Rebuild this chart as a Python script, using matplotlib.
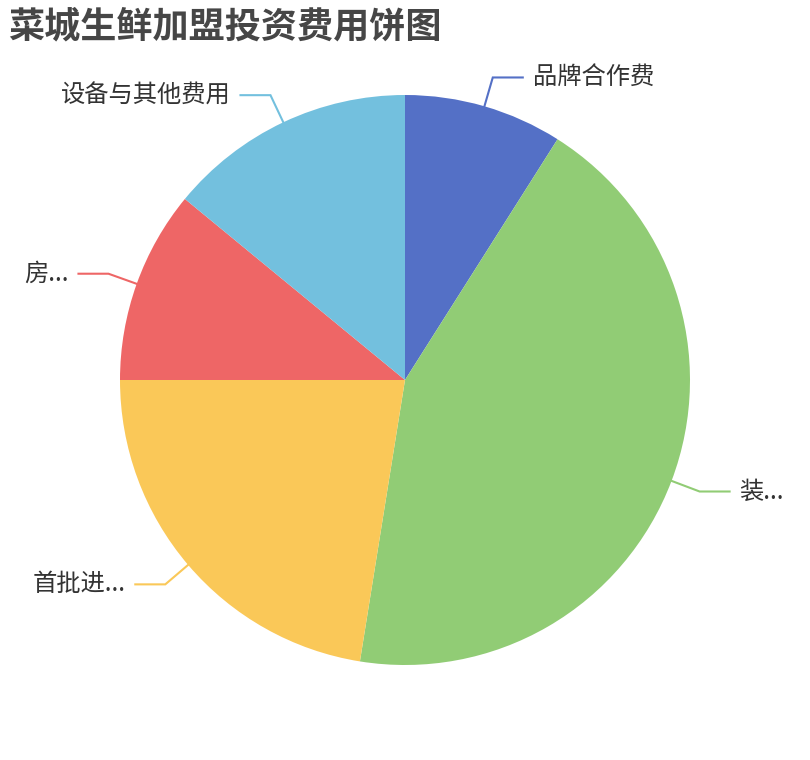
## 菜城生鲜加盟投资费用饼图
import numpy as np
import matplotlib
matplotlib.use('Agg')
import matplotlib.pyplot as plt

plt.rcParams['font.family'] = ['Noto Sans CJK SC', 'DejaVu Sans']

# data (万元)
labels = ['品牌合作费', '装...', '首批进...', '房...', '设备与其他费用']
values = [3.2, 15.5, 8.0, 3.9, 5.0]
colors = ['#5470c6', '#91cc75', '#fac858', '#ee6666', '#73c0de']

W, H = 810, 760
cx, cy, R = 405, H - 380, 285
L1, L2 = 30, 30  # label line segments

fig = plt.figure(figsize=(W/100, H/100), dpi=100)
ax = fig.add_axes([0, 0, 1, 1])
wedges, _ = ax.pie(values, colors=colors, startangle=90, counterclock=False,
                   center=(cx, cy), radius=R, frame=True,
                   wedgeprops=dict(linewidth=0))
ax.set_xlim(0, W); ax.set_ylim(0, H)
ax.set_aspect('equal')
ax.axis('off')

# label lines, echarts style
for w, lab, c in zip(wedges, labels, colors):
    mid = np.deg2rad((w.theta1 + w.theta2) / 2)
    dx, dy = np.cos(mid), np.sin(mid)
    p0 = (cx + R*dx, cy + R*dy)
    p1 = (cx + (R+L1)*dx, cy + (R+L1)*dy)
    s = 1 if dx >= 0 else -1
    p2 = (p1[0] + s*L2, p1[1])
    ax.plot([p0[0], p1[0], p2[0]], [p0[1], p1[1], p2[1]], color=c, lw=1.5,
            solid_joinstyle='miter')
    ax.text(p2[0] + s*10, p2[1], lab, fontsize=17.5, color='#333333',
            ha='left' if s > 0 else 'right', va='center')

fig.text(8/W, 1 - 27/H, '菜城生鲜加盟投资费用饼图', fontsize=26,
         fontweight='bold', color='#464646', ha='left', va='center')

fig.savefig('out.png', dpi=100)
